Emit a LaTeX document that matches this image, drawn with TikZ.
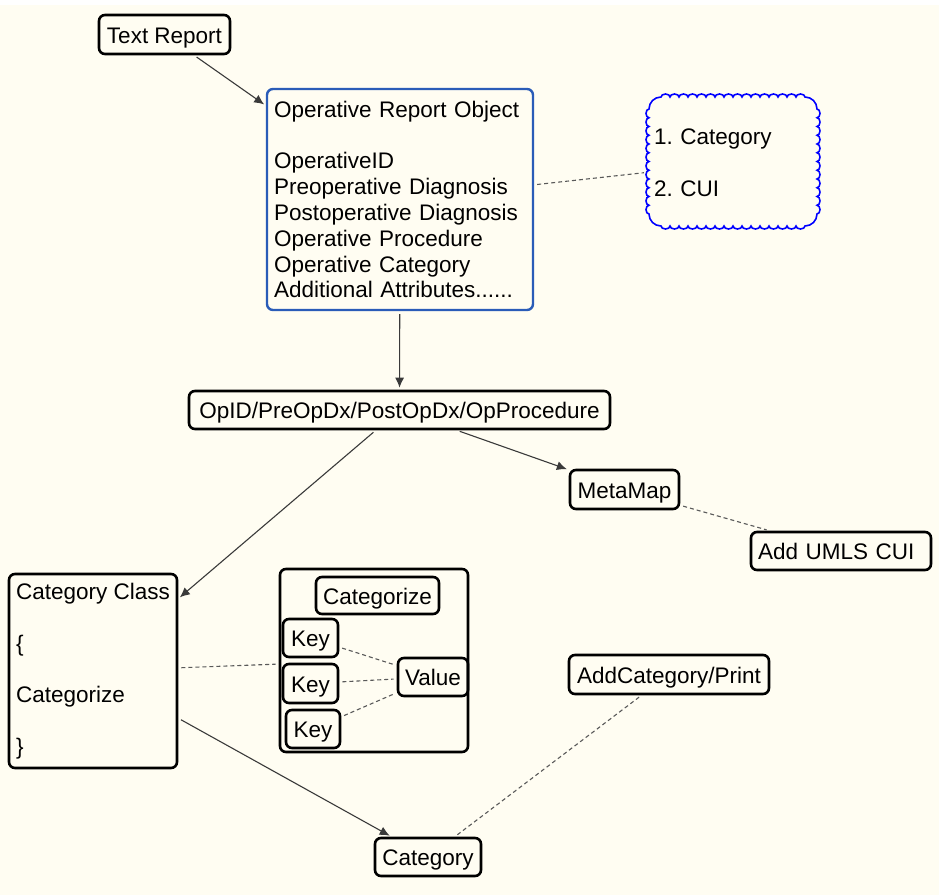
\documentclass[tikz,border=0pt]{standalone}
\usepackage{fontspec}
\setmainfont{Liberation Sans}
\usetikzlibrary{arrows.meta}
\definecolor{cream}{HTML}{FFFDF2}
\definecolor{objblue}{HTML}{2A5CB8}
\definecolor{linkgray}{HTML}{3A3A3A}

\begin{document}
\begin{tikzpicture}[x=1pt,y=-1pt,
    every node/.style={font=\fontsize{22.5}{25.8}\selectfont},
    box/.style={draw=black,line width=2.6pt,rounded corners=6pt,inner sep=0pt},
    one/.style={box,text height=17pt,text depth=0pt},
    arr/.style={draw=linkgray,line width=1.1pt,-{Latex[length=10pt,width=9pt]},shorten <=3pt,shorten >=2pt},
    dsh/.style={draw=black!65,line width=1.1pt,dash pattern=on 4pt off 3pt,shorten <=3pt,shorten >=3pt}]
    \useasboundingbox (0,0) rectangle (939,895);
    \fill[cream] (0,5) rectangle (939,895);

    \node[one,minimum width=131,minimum height=39] (txtrep) at (164.5,34.5) {Text Report};
    \node[box,draw=objblue,line width=2.4pt,align=left,text width=252pt,inner xsep=7pt,minimum height=221] (opobj) at (400,199.5)
        {Operative Report Object\\[26pt]OperativeID\\Preoperative Diagnosis\\Postoperative Diagnosis\\Operative Procedure\\Operative Category\\Additional Attributes......};
    \node[align=left,text width=157pt,inner xsep=7pt,minimum height=133] (cloud) at (732.5,163) {1.\ Category\\[25.8pt]2.\ CUI};
    \draw[blue,line width=1.6pt]
        (649,109) arc[start angle=180,end angle=270,radius=12]
        \foreach \i in {1,...,16} {arc[start angle=180,end angle=360,x radius=4.5,y radius=3]}
        arc[start angle=270,end angle=360,radius=12]
        \foreach \i in {1,...,12} {arc[start angle=-90,end angle=90,x radius=3,y radius=4.375]}
        arc[start angle=0,end angle=90,radius=12]
        \foreach \i in {1,...,16} {arc[start angle=0,end angle=180,x radius=4.5,y radius=3]}
        arc[start angle=90,end angle=180,radius=12]
        \foreach \i in {1,...,12} {arc[start angle=90,end angle=270,x radius=3,y radius=4.375]}
        -- cycle;
    \node[one,minimum width=421,minimum height=38] (opid) at (399.5,410) {OpID/PreOpDx/PostOpDx/OpProcedure};
    \node[one,minimum width=109,minimum height=39] (metamap) at (624.5,489.5) {MetaMap};
    \node[one,align=left,text width=166pt,inner xsep=7pt,minimum height=38] (umls) at (841,551) {Add UMLS CUI};
    \node[box,align=left,minimum width=168,minimum height=194] (catclass) at (93,671)
        {Category Class\\[25.8pt]\{\\[25.8pt]Categorize\\[25.8pt]\}};
    \node[box,minimum width=188,minimum height=183] (catbox) at (374,660.5) {};
    \node[one,minimum width=123,minimum height=37] (categorize) at (377.5,595.5) {Categorize};
    \node[one,minimum width=55,minimum height=38] (key1) at (310.5,638) {Key};
    \node[one,minimum width=55,minimum height=39] (key2) at (310.5,683.5) {Key};
    \node[one,minimum width=54,minimum height=38] (key3) at (313,729) {Key};
    \node[one,minimum width=70,minimum height=38] (value) at (433,677) {Value};
    \node[one,minimum width=200,minimum height=39] (addcat) at (669,674.5) {AddCategory/Print};
    \node[one,minimum width=106,minimum height=38] (category) at (428,857) {Category};

    \draw[arr] (txtrep) -- (opobj);
    \draw[dsh] (opobj) -- (cloud);
    \draw[arr] (opobj) -- (opid);
    \draw[arr] (opid) -- (metamap);
    \draw[dsh] (metamap) -- (umls);
    \draw[arr] (opid) -- (catclass);
    \draw[dsh] (catclass) -- (catbox);
    \draw[dsh] (key1) -- (value);
    \draw[dsh] (key2) -- (value);
    \draw[dsh] (key3) -- (value);
    \draw[arr] (catclass) -- (category);
    \draw[dsh] (addcat) -- (category);
\end{tikzpicture}
\end{document}
